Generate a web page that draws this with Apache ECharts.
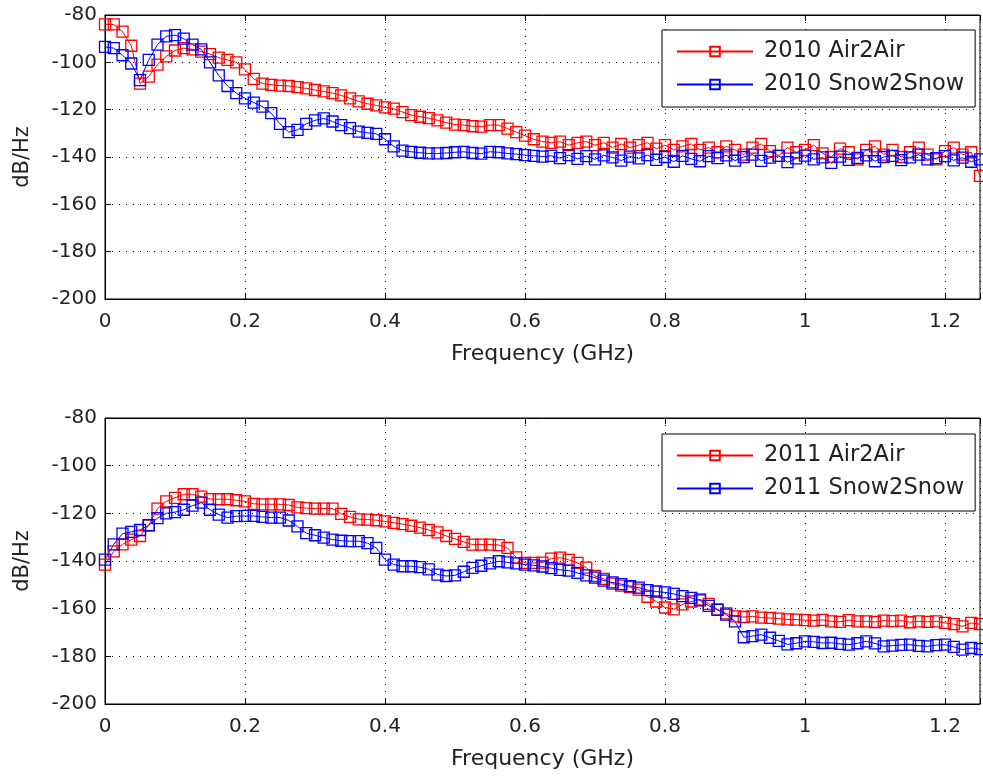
<!DOCTYPE html>
<html>
<head>
    <meta charset="utf-8" />
    <title>PSD</title>
    <script src="https://cdn.jsdelivr.net/npm/echarts@6/dist/echarts.min.js"></script>
</head>
<body style="margin:0">
    <div id="main" style="width: 983px;height:779px;"></div>
    <script type="text/javascript">
        // frequency axis (GHz)
        var freq = [
            0, 0.0125, 0.025, 0.0375, 0.05, 0.0625, 0.075, 0.0875, 0.1, 0.1125,
            0.125, 0.1375, 0.15, 0.1625, 0.175, 0.1875, 0.2, 0.2125, 0.225, 0.2375,
            0.25, 0.2625, 0.275, 0.2875, 0.3, 0.3125, 0.325, 0.3375, 0.35, 0.3625,
            0.375, 0.3875, 0.4, 0.4125, 0.425, 0.4375, 0.45, 0.4625, 0.475, 0.4875,
            0.5, 0.5125, 0.525, 0.5375, 0.55, 0.5625, 0.575, 0.5875, 0.6, 0.6125,
            0.625, 0.6375, 0.65, 0.6625, 0.675, 0.6875, 0.7, 0.7125, 0.725, 0.7375,
            0.75, 0.7625, 0.775, 0.7875, 0.8, 0.8125, 0.825, 0.8375, 0.85, 0.8625,
            0.875, 0.8875, 0.9, 0.9125, 0.925, 0.9375, 0.95, 0.9625, 0.975, 0.9875,
            1, 1.0125, 1.025, 1.0375, 1.05, 1.0625, 1.075, 1.0875, 1.1, 1.1125,
            1.125, 1.1375, 1.15, 1.1625, 1.175, 1.1875, 1.2, 1.2125, 1.225, 1.2375,
            1.25
        ];
        var air2010 = [
            -84, -84, -87, -93, -109, -106, -101, -97.5, -95, -94,
            -94.5, -95.5, -96.5, -98, -99, -100, -103, -107, -109, -109.5,
            -109.8, -110, -110.5, -111, -111.7, -112.3, -113, -114, -115.2, -116.5,
            -117.5, -118.2, -119, -119.6, -121, -122.3, -123, -123.6, -124.5, -125.5,
            -126.3, -126.5, -127, -127.2, -126.5, -126.5, -128, -129.5, -131, -132.5,
            -133.5, -134, -133.5, -135, -134, -133.5, -135, -134, -136, -134.5,
            -136, -135, -134, -136.5, -135, -137, -135.5, -134.5, -137, -136,
            -138, -135.5, -137, -139, -136, -134.5, -137.5, -139.5, -136, -138,
            -137, -135, -138.5, -140, -136.5, -138, -141, -137, -135.5, -139,
            -137, -140, -138, -136, -139, -141, -137.5, -136, -139, -138,
            -148
        ];
        var snow2010 = [
            -93.5, -94, -97, -100.5, -107.5, -99, -92.5, -89, -88.5, -90,
            -92.5, -94.5, -100, -105.5, -110, -113, -115.2, -117, -118.7, -121.5,
            -126, -129.5, -128.5, -126, -124.5, -123.7, -125, -126.5, -127.8, -129.3,
            -129.8, -130.2, -132.5, -135.5, -137.3, -137.8, -138.2, -138.5, -138.5, -138.3,
            -138, -137.8, -138.3, -138.6, -137.8, -138, -138.5, -138.8, -139.2, -139.5,
            -139.8, -139.5, -140.5, -139.2, -140.8, -139.6, -141, -139.3, -140.2, -141.5,
            -139.8, -140.6, -139.2, -141.2, -140, -142, -139.5, -140.8, -141.8, -139.6,
            -140.5, -139.3, -141.5, -140, -139, -141.6, -140.3, -139.5, -142.2, -140.6,
            -139.4, -141, -140.2, -142.5, -139.8, -141.2, -140.4, -139.3, -141.8, -140,
            -139.5, -141.3, -140.2, -139, -141, -140.5, -139.6, -141.4, -140.3, -142,
            -141
        ];
        var air2011 = [
            -141.5, -136, -133, -131, -129.5, -125, -118, -115, -113.5, -112,
            -112, -113, -114, -114.1, -114.1, -114.5, -115, -116, -116.2, -116.2,
            -116.2, -116.5, -117.5, -117.8, -118, -118, -118, -120.2, -121.5, -122.5,
            -122.6, -122.9, -123.4, -124, -124.5, -125.2, -126, -127, -128, -129.5,
            -130.7, -132, -133.1, -133.1, -133.1, -133.3, -134.5, -138.5, -140.8, -140.8,
            -140.7, -139, -138.6, -139.5, -140.8, -142.8, -146.3, -147.5, -149.5, -150.3,
            -151, -152, -155, -157, -159.5, -160.3, -158.2, -157, -156.1, -158,
            -160.3, -162, -163.2, -163.5, -163.2, -163.8, -163.9, -164.2, -164.5, -164.6,
            -164.8, -165, -164.7, -165.3, -165.5, -164.8, -165.3, -165.3, -165.6, -165,
            -165.2, -165, -165.7, -165.3, -165.5, -165.3, -166, -166.5, -167.4, -166,
            -166.5
        ];
        var snow2011 = [
            -139.4, -133, -128.5, -127.8, -127, -125, -122, -120, -119.5, -118.5,
            -116.8, -115.5, -118.5, -120.5, -121.8, -121.2, -121.1, -121.1, -121.5, -121.8,
            -121.8, -123, -125.5, -128.3, -129.2, -130.2, -131, -131.5, -131.7, -131.7,
            -132.5, -134.5, -139.4, -141.5, -142.2, -142.2, -142.6, -143.5, -145.7, -146.3,
            -146, -144.5, -142.9, -142, -141, -140.1, -140.6, -141, -141.5, -141.8,
            -142.3, -143, -143.7, -144, -145, -146, -147, -148.2, -149, -149.7,
            -150.5, -151.2, -152.2, -152.8, -153.2, -153.8, -154.7, -155.5, -156.5, -158.8,
            -160.5, -162.5, -165.3, -172, -171.5, -170.9, -172.2, -173.5, -175, -174.5,
            -173.7, -173.9, -174.4, -174.3, -174.8, -175.1, -174.5, -173.7, -174.6, -175.8,
            -175.5, -175.2, -175.1, -175.6, -175.8, -175.3, -175.1, -176, -177.2, -176.5,
            -177
        ];
        var xTicks = [0, 0.2, 0.4, 0.6, 0.8, 1, 1.2];

        var font = 'DejaVu Sans';
        var myChart = echarts.init(document.getElementById('main'));

        function pairs(ys) {
            return ys.map(function (v, i) { return [freq[i], v]; });
        }
        function mk(name, ys, color, idx) {
            return {
                name: name, type: 'line', xAxisIndex: idx, yAxisIndex: idx,
                data: pairs(ys), symbol: 'rect', symbolSize: 11, clip: false,
                lineStyle: { color: color, width: 1 },
                itemStyle: { color: 'rgba(255,255,255,0)', borderColor: color, borderWidth: 1.3 },
                emphasis: { disabled: true }
            };
        }
        function xAx(idx) {
            return {
                type: 'value', gridIndex: idx, min: 0, max: 1.25, interval: 0.2,
                axisLine: { lineStyle: { color: '#000', width: 1 } },
                axisTick: { inside: true, length: 6, lineStyle: { color: '#000' } },
                axisLabel: {
                    fontFamily: font, fontSize: 20, color: '#222', margin: 13,
                    formatter: function (v) { return xTicks.indexOf(+v.toFixed(2)) >= 0 ? String(+v.toFixed(2)) : ''; }
                },
                splitLine: { lineStyle: { type: [1, 6], color: '#000', width: 1 } },
                name: 'Frequency (GHz)', nameLocation: 'middle', nameGap: 44,
                nameTextStyle: { fontFamily: font, fontSize: 22, color: '#222' }
            };
        }
        function xTop(idx) {
            return {
                type: 'value', gridIndex: idx, position: 'top', min: 0, max: 1.25, interval: 0.2,
                axisLine: { lineStyle: { color: '#000' } },
                axisTick: { inside: true, length: 6, lineStyle: { color: '#000' } },
                axisLabel: { show: false }, splitLine: { show: false }
            };
        }
        function yAx(idx) {
            return {
                type: 'value', gridIndex: idx, min: -200, max: -80, interval: 20,
                axisLine: { lineStyle: { color: '#000' } },
                axisTick: { inside: true, length: 6, lineStyle: { color: '#000' } },
                axisLabel: { fontFamily: font, fontSize: 20, color: '#222', margin: 8 },
                splitLine: { lineStyle: { type: [1, 6], color: '#000', width: 1 } },
                name: 'dB/Hz', nameLocation: 'middle', nameGap: 72,
                nameTextStyle: { fontFamily: font, fontSize: 21, color: '#222' }
            };
        }
        function leg(top, names) {
            return {
                data: names, orient: 'vertical', left: 662, top: top,
                backgroundColor: '#fff', borderColor: '#000', borderWidth: 1,
                padding: [10, 11, 11, 14], itemGap: 10, itemWidth: 76, itemHeight: 12,
                textStyle: { fontFamily: font, fontSize: 22.5, color: '#222', padding: [0, 0, 0, 6] },
                selectedMode: false
            };
        }

        var option = {
            animation: false,
            backgroundColor: '#fff',
            grid: [
                { left: 105, top: 15, width: 881, height: 284, show: true, borderColor: '#000', borderWidth: 1 },
                { left: 105, top: 418, width: 881, height: 286, show: true, borderColor: '#000', borderWidth: 1 }
            ],
            xAxis: [xAx(0), xAx(1), xTop(0), xTop(1)],
            yAxis: [yAx(0), yAx(1)],
            legend: [
                leg(30, ['2010 Air2Air', '2010 Snow2Snow']),
                leg(434, ['2011 Air2Air', '2011 Snow2Snow'])
            ],
            series: [
                mk('2010 Air2Air', air2010, '#f00', 0),
                mk('2010 Snow2Snow', snow2010, '#00f', 0),
                mk('2011 Air2Air', air2011, '#f00', 1),
                mk('2011 Snow2Snow', snow2011, '#00f', 1)
            ]
        };
        myChart.setOption(option);
    </script>
</body>
</html>
